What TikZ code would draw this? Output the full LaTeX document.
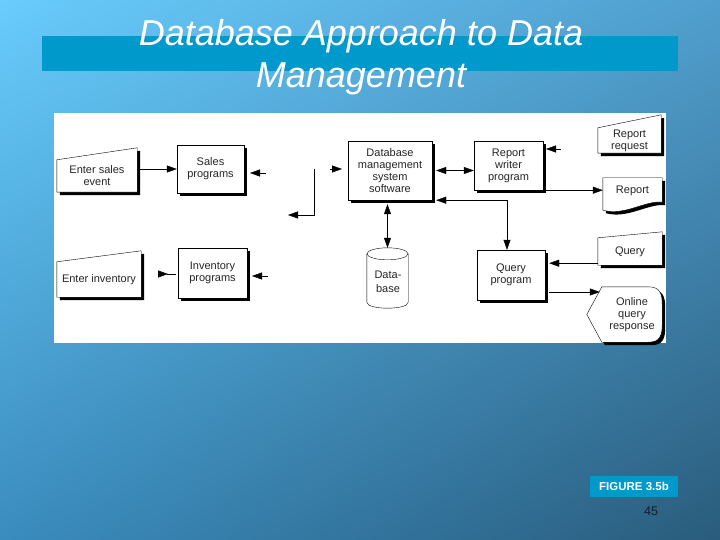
\documentclass[tikz,border=0pt]{standalone}
\usepackage{fontspec}
\setmainfont{Liberation Sans}
\usetikzlibrary{arrows.meta,calc,shadows,shadings}
\pgfdeclarelayer{bg}
\pgfdeclarelayer{shp}
\pgfsetlayers{bg,shp,main}
\definecolor{bgA}{RGB}{104,204,252}
\definecolor{bgB}{RGB}{80,158,205}
\definecolor{bgC}{RGB}{58,140,190}
\definecolor{bgD}{RGB}{42,92,124}
\definecolor{barblue}{RGB}{0,153,204}
\definecolor{numcol}{RGB}{20,30,50}
\begin{document}
\begin{tikzpicture}[x=1pt,y=-1pt,line width=1.1pt,
  arr/.style={-{Triangle[length=10pt,width=7pt]}},
  darr/.style={{Triangle[length=10pt,width=7pt]}-{Triangle[length=10pt,width=7pt]}},
  rarr/.style={{Triangle[reversed,length=10pt,width=7pt]}-},
  shad/.style={drop shadow={shadow xshift=3pt,shadow yshift=-3pt,fill=black,opacity=1}},
  txt/.style={align=center,inner sep=0pt,font=\fontsize{11}{12}\selectfont,text=black!85},
  proc/.style={txt,draw,fill=white,shad},
  lbl/.style={txt},
  shapebox/.style={draw,fill=white,shad},
  title/.style={text=white,inner sep=0pt,font=\fontsize{36}{42}\selectfont\itshape},
]
\useasboundingbox (0,0) rectangle (720,540);
\begin{pgfonlayer}{bg}
  \shade[upper left=bgA,upper right=bgB,lower left=bgC,lower right=bgD] (0,0) rectangle (720,540);
  \fill[barblue] (42,36) rectangle (678,71);
  \fill[white] (54,113) rectangle (666,343);
\end{pgfonlayer}

% title
\node[title,anchor=base] (t1) at (361,46) {Database Approach to Data};
\node[title,anchor=base] (t2) at (361,88) {Management};

% process boxes
\node[proc,minimum width=67pt,minimum height=48pt] (sp) at (210.5,169) {Sales\\programs};
\node[proc,minimum width=69pt,minimum height=50pt] (ip) at (212.5,273) {Inventory\\programs};
\node[proc,minimum width=84pt,minimum height=59pt] (db) at (390,170.5) {Database\\management\\system\\software};
\node[proc,minimum width=69pt,minimum height=49pt] (rw) at (508.5,165.5) {Report\\writer\\program};
\node[proc,minimum width=68pt,minimum height=50pt] (qp) at (511,275) {Query\\program};

% other shapes (text nodes)
\node[lbl,minimum width=80pt,minimum height=32pt] (es) at (97,176) {Enter sales\\event};
\node[lbl,minimum width=84pt,minimum height=35pt] (ei) at (99,279.5) {Enter inventory};
\node[lbl,minimum width=63pt,minimum height=25pt] (rr) at (629.5,140.5) {Report\\request};
\node[lbl,minimum width=59pt,minimum height=26pt] (rp) at (632.5,191) {Report};
\node[lbl,minimum width=64pt,minimum height=27pt] (qy) at (630,251.5) {Query};
\node[lbl,minimum width=60pt,minimum height=55pt] (oq) at (632,314.5) {Online\\query\\response};
\node[lbl,minimum width=41pt,minimum height=60pt] (cyl) at (387.5,278) {};
\node[lbl] (cyltxt) at (388,282) {Data-\\[2pt]base};

\begin{pgfonlayer}{shp}
  \path[shapebox] (es.north west) -- ($(es.north east)+(0,-12)$) -- (es.south east) -- (es.south west) -- cycle;
  \path[shapebox] (ei.north west) -- ($(ei.north east)+(0,-11)$) -- (ei.south east) -- (ei.south west) -- cycle;
  \path[shapebox] (rr.north west) -- ($(rr.north east)+(0,-13)$) -- (rr.south east) -- (rr.south west) -- cycle;
  \path[shapebox] (qy.north west) -- ($(qy.north east)+(0,-6)$) -- (qy.south east) -- (qy.south west) -- cycle;
  \path[shapebox] (rp.north west) -- (rp.north east) -- ($(rp.south east)+(0,-2)$)
     .. controls ($(rp.south east)+(-17,-4)$) and ($(rp.south west)+(22,12)$) .. ($(rp.south west)+(0,6)$) -- cycle;
  \path[shapebox] ($(oq.west)+(-15,0)$) -- (oq.north west) -- ($(oq.north east)+(-14,0)$)
     .. controls ($(oq.north east)+(-2,0)$) and ($(oq.north east)+(0,7)$) .. ($(oq.north east)+(0,18)$)
     -- ($(oq.south east)+(0,-18)$)
     .. controls ($(oq.south east)+(0,-7)$) and ($(oq.south east)+(-2,0)$) .. ($(oq.south east)+(-14,0)$)
     -- (oq.south west) -- cycle;
  \path[draw,fill=white] ($(cyl.north west)+(0,6)$) -- ($(cyl.south west)+(0,-6)$)
     .. controls ($(cyl.south west)+(0,2)$) and ($(cyl.south east)+(0,2)$) .. ($(cyl.south east)+(0,-6)$)
     -- ($(cyl.north east)+(0,6)$) -- cycle;
  \draw[fill=white] ($(cyl.north)+(0,6)$) ellipse [x radius=20.5pt,y radius=6pt];
\end{pgfonlayer}

% connectors
\draw[arr] (sp.west -| es.east) -- (sp.west);
\coordinate (s1) at (266,173); \coordinate (s2) at (250,173);
\draw[arr] (s1) -- (s2);
\coordinate (i1) at (158,274); \coordinate (i2) at (176,274);
\draw[rarr] (i1) -- (i2);
\coordinate (i3) at (268,276); \coordinate (i4) at (252,276);
\draw[arr] (i3) -- (i4);
\coordinate (m1) at (314,169); \coordinate (m2) at (288,215);
\draw[arr] (m1) |- (m2);
\coordinate (d1) at (330,169); \coordinate (d2) at (342,169);
\draw[arr] (d1) -- (d2);
\draw[darr] ($(db.east)+(4,0)$) -- (db.east -| rw.west);
\coordinate (r1) at (561,149); \coordinate (r2) at (546,149);
\draw[arr] (r1) -- (r2);
\draw[arr] (rw.south east) -- (rw.south east -| rp.west);
\draw[darr] ($(db.south east)+(4,0)$) -| ($(qp.north)+(-4,0)$);
\draw[darr] (cyl.north) -- ($(cyl.north |- db.south)+(0,4)$);
\coordinate (q1) at ($(qy.south west)+(0,-2)$);
\draw[arr] (q1) -- ($(q1 -| qp.east)+(4,0)$);
\coordinate (q2) at ($(qp.east)+(4,17)$);
\draw[arr] (q2) -- ($(q2 -| oq.west)+(-2,0)$);

% figure label and page number
\node[fill=barblue,text=white,font=\fontsize{11.5}{12}\selectfont\bfseries,minimum width=88pt,minimum height=21pt,inner sep=0pt] (fig) at (634,486.5) {FIGURE 3.5b};
\node[text=numcol,font=\fontsize{12.5}{12}\selectfont,inner sep=0pt] (pg) at (651,511) {45};
\end{tikzpicture}
\end{document}
